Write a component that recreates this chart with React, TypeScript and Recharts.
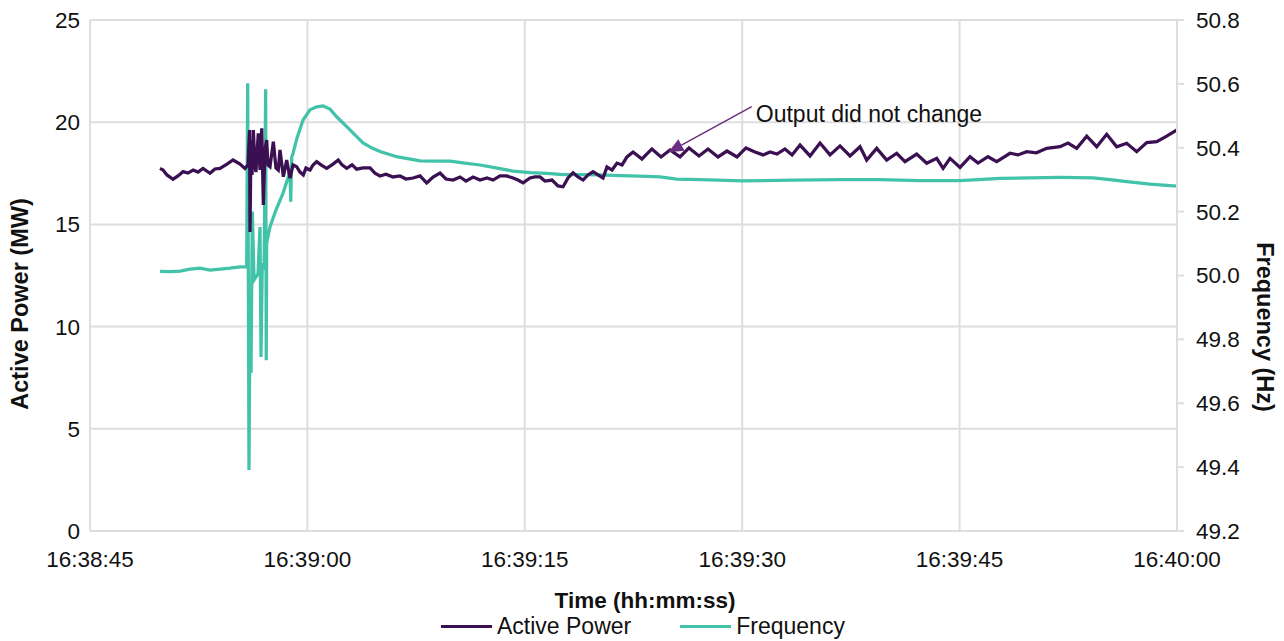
import { CartesianGrid, Label, Line, LineChart, ReferenceLine, XAxis, YAxis } from 'recharts'

// seconds after 16:38:45
const START_SEC = 16 * 3600 + 38 * 60 + 45
const timeTicks = [0, 15, 30, 45, 60, 75]
const powerTicks = [0, 5, 10, 15, 20, 25]
const freqTicks = [49.2, 49.4, 49.6, 49.8, 50.0, 50.2, 50.4, 50.6, 50.8]

// [t (s), MW]
const activePower: [number, number][] = [
  [4.83, 17.74], [5.04, 17.66], [5.31, 17.42], [5.73, 17.21], [6.07, 17.37], [6.42, 17.58],
  [6.76, 17.51], [7.11, 17.66], [7.45, 17.56], [7.8, 17.74], [8.28, 17.5], [8.62, 17.71],
  [8.97, 17.74], [9.45, 17.95], [9.87, 18.15], [10.35, 17.95], [10.69, 17.74], [10.9, 17.91],
  [11.01, 19.62], [11.04, 14.63], [11.11, 19.13], [11.18, 17.42], [11.27, 19.62], [11.38, 17.91],
  [11.45, 17.56], [11.61, 19.46], [11.73, 17.66], [11.85, 19.7], [11.96, 15.95], [12.07, 18.64],
  [12.19, 19.13], [12.28, 17.91], [12.42, 17.82], [12.65, 19.05], [12.83, 17.76], [12.99, 17.66],
  [13.11, 18.64], [13.34, 17.33], [13.57, 18.15], [13.8, 17.26], [14.01, 17.91], [14.26, 17.82],
  [14.49, 17.56], [14.72, 17.42], [14.9, 17.76], [15.18, 17.66], [15.39, 17.91], [15.64, 18.07],
  [15.94, 17.91], [16.33, 17.74], [16.77, 17.95], [17.13, 18.15], [17.39, 17.91], [17.71, 17.74],
  [18.08, 17.91], [18.4, 17.7], [18.84, 17.76], [19.32, 17.76], [19.66, 17.51], [20.01, 17.37],
  [20.42, 17.46], [20.91, 17.32], [21.39, 17.37], [21.8, 17.22], [22.29, 17.27], [22.77, 17.37],
  [23.23, 17.03], [23.67, 17.32], [24.15, 17.51], [24.56, 17.22], [25.05, 17.17], [25.53, 17.32],
  [25.94, 17.12], [26.43, 17.32], [26.91, 17.17], [27.39, 17.27], [27.81, 17.17], [28.29, 17.37],
  [28.75, 17.37], [29.19, 17.27], [29.53, 17.17], [29.88, 17.03], [30.36, 17.27], [30.7, 17.32],
  [31.05, 17.32], [31.39, 17.12], [31.88, 17.17], [32.29, 16.88], [32.64, 16.84], [32.98, 17.27],
  [33.33, 17.53], [33.67, 17.32], [34.02, 17.17], [34.36, 17.42], [34.71, 17.58], [35.05, 17.42],
  [35.4, 17.27], [35.67, 17.81], [36.02, 17.66], [36.36, 18.0], [36.71, 17.91], [37.05, 18.3],
  [37.47, 18.54], [38.08, 18.2], [38.77, 18.69], [39.4, 18.3], [40.02, 18.64], [40.71, 18.3],
  [41.33, 18.74], [42.02, 18.35], [42.64, 18.69], [43.33, 18.3], [43.95, 18.59], [44.64, 18.3],
  [45.26, 18.74], [45.88, 18.54], [46.44, 18.4], [46.92, 18.54], [47.4, 18.44], [47.95, 18.69],
  [48.44, 18.4], [48.99, 18.88], [49.68, 18.35], [50.37, 18.98], [51.06, 18.4], [51.75, 18.84],
  [52.44, 18.35], [53.13, 18.8], [53.59, 18.15], [54.28, 18.72], [54.97, 18.15], [55.66, 18.48],
  [56.23, 18.07], [57.04, 18.44], [57.73, 17.99], [58.42, 18.23], [58.86, 17.74], [59.34, 18.23],
  [60.03, 17.79], [60.72, 18.31], [61.27, 18.0], [61.96, 18.31], [62.56, 18.07], [63.48, 18.48],
  [64.03, 18.4], [64.63, 18.56], [65.3, 18.5], [66.01, 18.72], [66.93, 18.8], [67.48, 18.98],
  [68.08, 18.72], [68.77, 19.32], [69.46, 18.8], [70.15, 19.41], [70.84, 18.8], [71.53, 18.97],
  [72.22, 18.56], [72.91, 19.0], [73.6, 19.05], [74.29, 19.32], [75.0, 19.62],
]

// [t (s), Hz]
const frequency: [number, number][] = [
  [4.83, 50.013], [5.52, 50.012], [6.21, 50.014], [6.9, 50.02], [7.59, 50.023], [8.28, 50.017],
  [8.97, 50.02], [9.66, 50.023], [10.35, 50.027], [10.81, 50.027], [10.88, 50.602], [10.97, 49.391],
  [11.04, 49.923], [11.11, 49.695], [11.2, 50.2], [11.32, 49.986], [11.45, 49.995], [11.59, 50.005],
  [11.73, 50.152], [11.8, 49.745], [11.89, 50.039], [12.01, 50.017], [12.12, 50.583], [12.16, 49.735],
  [12.19, 50.102], [12.42, 50.152], [12.83, 50.205], [13.32, 50.258], [13.66, 50.305], [13.8, 50.33],
  [13.85, 50.231], [13.92, 50.371], [14.01, 50.383], [14.28, 50.43], [14.7, 50.487], [15.18, 50.519],
  [15.64, 50.528], [16.08, 50.531], [16.56, 50.521], [17.02, 50.497], [17.71, 50.466], [18.35, 50.437],
  [18.84, 50.415], [19.46, 50.399], [20.01, 50.388], [21.16, 50.372], [22.77, 50.359], [23.8, 50.358],
  [24.84, 50.358], [25.87, 50.352], [26.91, 50.346], [28.01, 50.337], [29.19, 50.327], [30.36, 50.322],
  [31.51, 50.32], [32.64, 50.316], [33.81, 50.316], [35.19, 50.315], [36.57, 50.313], [37.95, 50.311],
  [39.33, 50.309], [40.48, 50.302], [42.09, 50.3], [45.06, 50.296], [48.51, 50.299], [51.75, 50.3],
  [54.51, 50.3], [57.27, 50.297], [60.03, 50.297], [62.79, 50.304], [64.86, 50.306], [66.93, 50.307],
  [69.21, 50.306], [70.38, 50.3], [71.55, 50.294], [73.14, 50.286], [75.0, 50.28],
]

const powerData = activePower.map(([t, v]) => ({ t, v }))
const freqData = frequency.map(([t, v]) => ({ t, v }))

const POWER_COLOR = '#3b1052'
const FREQ_COLOR = '#42c3a9'
const GRID = '#dedede'
const FONT = '"Liberation Sans", Arial, sans-serif'

const fmtTime = (t: number) => {
  const s = START_SEC + t
  const hh = Math.floor(s / 3600)
  const mm = Math.floor((s % 3600) / 60)
  const ss = Math.round(s % 60)
  return [hh, mm, ss].map((n) => String(n).padStart(2, '0')).join(':')
}

const tickStyle = { fontSize: 22.5, fill: '#111', fontFamily: FONT }
const titleStyle = { fontSize: 22.5, fontWeight: 700, fill: '#111', fontFamily: FONT }

const ArrowNote = (props: any) => {
  const { x1, y1, x2, y2 } = props
  const dx = x1 - x2
  const dy = y1 - y2
  const len = Math.hypot(dx, dy)
  const ux = dx / len
  const uy = dy / len
  const bx = x1 - ux * 15
  const by = y1 - uy * 15
  const w = 6.5
  return (
    <g>
      <line x1={x2} y1={y2} x2={bx} y2={by} stroke="#6b2e80" strokeWidth={1.5} />
      <polygon
        points={`${x1},${y1} ${bx - uy * w},${by + ux * w} ${bx + uy * w},${by - ux * w}`}
        fill="#6b2e80"
      />
      <text x={x2 + 4} y={y2 + 15} style={{ fontSize: 23, fill: '#111', fontFamily: FONT }}>
        Output did not change
      </text>
    </g>
  )
}

function LegendItem({ color, label }: { color: string; label: string }) {
  return (
    <div style={{ display: 'flex', alignItems: 'center' }}>
      <span style={{ width: 51, height: 3, background: color, marginRight: 5 }} />
      <span>{label}</span>
    </div>
  )
}

export default function App() {
  return (
    <div
      style={{
        position: 'absolute',
        left: 0,
        top: 0,
        width: 1284,
        height: 641,
        background: '#fff',
        fontFamily: FONT,
      }}
    >
      <LineChart width={1284} height={641} margin={{ top: 20, right: 0, bottom: 0, left: 0 }}>
        <CartesianGrid yAxisId="p" stroke={GRID} strokeWidth={2} />
        <XAxis
          dataKey="t"
          type="number"
          domain={[0, 75]}
          ticks={timeTicks}
          tickFormatter={fmtTime}
          height={110}
          tickSize={0}
          tickMargin={20}
          tick={tickStyle}
          axisLine={{ stroke: GRID, strokeWidth: 2 }}
          allowDataOverflow
        >
          <Label
            content={() => (
              <text x={645} y={608} textAnchor="middle" style={titleStyle}>
                Time (hh:mm:ss)
              </text>
            )}
          />
        </XAxis>
        <YAxis
          yAxisId="p"
          domain={[0, 25]}
          ticks={powerTicks}
          width={90}
          tickSize={0}
          tickMargin={10}
          tick={tickStyle}
          axisLine={{ stroke: GRID, strokeWidth: 2 }}
          allowDataOverflow
        >
          <Label
            content={() => (
              <text
                x={28}
                y={304}
                textAnchor="middle"
                transform="rotate(-90 28 304)"
                style={{ ...titleStyle, fontSize: 23.5 }}
              >
                Active Power (MW)
              </text>
            )}
          />
        </YAxis>
        <YAxis
          yAxisId="f"
          orientation="right"
          domain={[49.2, 50.8]}
          ticks={freqTicks}
          tickFormatter={(v: number) => v.toFixed(1)}
          width={107}
          tickSize={7}
          tickMargin={12}
          tick={tickStyle}
          tickLine={{ stroke: GRID, strokeWidth: 2 }}
          axisLine={{ stroke: GRID, strokeWidth: 2 }}
          allowDataOverflow
        >
          <Label
            content={() => (
              <text
                x={1257}
                y={327}
                textAnchor="middle"
                transform="rotate(90 1257 327)"
                style={{ ...titleStyle, fontSize: 23.5 }}
              >
                Frequency (Hz)
              </text>
            )}
          />
        </YAxis>
        <Line
          yAxisId="f"
          data={freqData}
          dataKey="v"
          name="Frequency"
          stroke={FREQ_COLOR}
          strokeWidth={3.25}
          dot={false}
          isAnimationActive={false}
        />
        <Line
          yAxisId="p"
          data={powerData}
          dataKey="v"
          name="Active Power"
          stroke={POWER_COLOR}
          strokeWidth={3.25}
          dot={false}
          isAnimationActive={false}
        />
        <ReferenceLine
          yAxisId="p"
          segment={[
            { x: 39.9, y: 18.53 },
            { x: 45.66, y: 20.76 },
          ]}
          shape={ArrowNote}
        />
      </LineChart>
      <div
        style={{
          position: 'absolute',
          left: 441,
          top: 612,
          display: 'flex',
          gap: 49,
          fontSize: 23,
          color: '#111',
          lineHeight: '28px',
        }}
      >
        <LegendItem color={POWER_COLOR} label="Active Power" />
        <LegendItem color={FREQ_COLOR} label="Frequency" />
      </div>
    </div>
  )
}
